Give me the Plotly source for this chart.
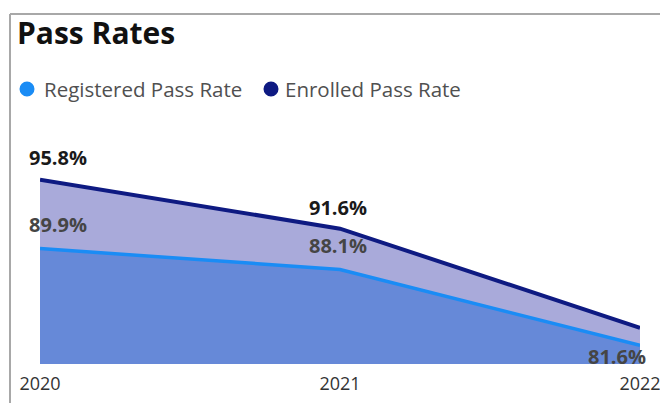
import plotly.graph_objects as go

years = [2020, 2021, 2022]
registered_pass_rate = [89.9, 88.1, 81.6]
enrolled_pass_rate = [95.8, 91.6, 83.1]
series_names = ["Registered Pass Rate", "Enrolled Pass Rate"]

REG_LINE = "#1A8CF5"
ENR_LINE = "#0E1A82"
FONT = "Open Sans"

W, H = 660, 403
ML, MR, MT, MB = 40, 20, 154, 39
PW, PH = W - ML - MR, H - MT - MB


def px_x(px):
    """Pixel column -> paper x."""
    return (px - ML) / PW


def px_y(py):
    """Pixel row (from top) -> paper y."""
    return (H - MB - py) / PH


fig = go.Figure()

# Enrolled area first (lavender), registered area drawn on top (blue)
fig.add_trace(go.Scatter(
    x=years, y=enrolled_pass_rate, name=series_names[1],
    mode="lines", line=dict(color=ENR_LINE, width=4),
    fill="tozeroy", fillcolor="#A9AADA",
))
fig.add_trace(go.Scatter(
    x=years, y=registered_pass_rate, name=series_names[0],
    mode="lines", line=dict(color=REG_LINE, width=3.5),
    fill="tozeroy", fillcolor="#6689D8",
))

# Data labels
enr_shift = [(18, 22), (-2, 21)]
for xv, yv, (dx, dy) in zip(years[:2], enrolled_pass_rate[:2], enr_shift):
    fig.add_annotation(x=xv, y=yv, text=f"{yv:.1f}%", showarrow=False,
                       xshift=dx, yshift=dy,
                       font=dict(family=FONT, size=20, color="#1a1a1a", weight="bold"))
reg_shift = [(18, 24), (-2, 24), (-23, -11)]
for xv, yv, (dx, dy) in zip(years, registered_pass_rate, reg_shift):
    fig.add_annotation(x=xv, y=yv, text=f"{yv:.1f}%", showarrow=False,
                       xshift=dx, yshift=dy,
                       font=dict(family=FONT, size=20, color="#454545", weight="bold"))

# Legend: circle swatch + label for each series
legend_items = [(series_names[0], REG_LINE, 27, 42), (series_names[1], ENR_LINE, 271, 283)]
shapes = []
for name, color, cx, tx in legend_items:
    shapes.append(dict(type="circle", xref="paper", yref="paper",
                       xsizemode="pixel", ysizemode="pixel",
                       xanchor=px_x(cx), yanchor=px_y(89),
                       x0=-7.5, x1=7.5, y0=-7.5, y1=7.5,
                       fillcolor=color, line=dict(width=0)))
    fig.add_annotation(xref="paper", yref="paper", x=px_x(tx), y=px_y(89),
                       xanchor="left", yanchor="middle", text=name, showarrow=False,
                       font=dict(family=FONT, size=20.5, color="#505050"))

# Card frame: top and left edges
shapes.append(dict(type="line", xref="paper", yref="paper",
                   x0=px_x(10), x1=px_x(W), y0=px_y(14), y1=px_y(14),
                   line=dict(color="#A8A8A8", width=2)))
shapes.append(dict(type="line", xref="paper", yref="paper",
                   x0=px_x(10), x1=px_x(10), y0=px_y(H), y1=px_y(14),
                   line=dict(color="#A8A8A8", width=2)))

fig.update_layout(
    width=W, height=H,
    margin=dict(l=ML, r=MR, t=MT, b=MB, autoexpand=False),
    paper_bgcolor="white", plot_bgcolor="white",
    title=dict(text="<b>Pass Rates</b>", x=17 / W, xanchor="left",
               y=1 - 33 / H, yanchor="middle",
               font=dict(family=FONT, size=30, color="#111111")),
    showlegend=False,
    shapes=shapes,
    xaxis=dict(range=[2020, 2022], tickvals=years, ticktext=[str(y) for y in years],
               showgrid=False, zeroline=False, showline=False, automargin=False,
               ticklabeloverflow="allow",
               ticks="outside", ticklen=3, tickcolor="rgba(0,0,0,0)",
               tickfont=dict(family=FONT, size=18, color="#333333")),
    yaxis=dict(range=[80, 98], visible=False, automargin=False),
)

fig.write_html("out.html")
